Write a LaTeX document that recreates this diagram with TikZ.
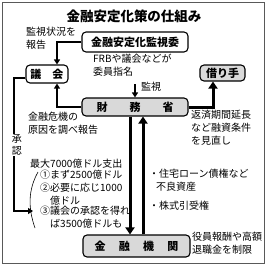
\documentclass[tikz,border=0pt]{standalone}
\usepackage{fontspec}
\setmainfont{Noto Sans CJK JP}
\usetikzlibrary{arrows.meta,calc}

\begin{document}
\begin{tikzpicture}[x=1pt,y=-1pt,>={Triangle[length=5pt,width=6pt]},
  box/.style={draw,rounded corners=4pt,line width=1.1pt,inner sep=0pt,
    font=\bfseries\fontsize{11}{12}\selectfont},
  tone/.style={box,fill=gray!30},
  note/.style={font=\fontsize{10}{13}\selectfont,align=left,inner sep=0pt,anchor=north west},
  link/.style={->,line width=1.2pt},
  heavy/.style={-{Triangle[length=7pt,width=9pt]},line width=3pt}]
  \useasboundingbox (0,0) rectangle (268,266);
  \draw[gray!70!black,line width=0.6pt] (2.5,2.5) rectangle (264.5,263.5);
  \node[font=\bfseries\fontsize{13.5}{14}\selectfont] (title) at (134,16) {金融安定化策の仕組み};
  % boxes
  \node[box,fill=white,minimum width=106pt,minimum height=20pt] (kanshi) at (135,42) {金融安定化監視委};
  \node[box,fill=white,minimum width=42pt,minimum height=18pt] (gikai) at (47,74) {議\hspace{1em}会};
  \node[tone,minimum width=45pt,minimum height=16pt] (karite) at (222.5,73) {借り手};
  \node[tone,minimum width=106pt,minimum height=18pt] (zaimu) at (135,107) {財\hspace{2em}務\hspace{2em}省};
  \node[tone,minimum width=107pt,minimum height=22pt] (kikan) at (136.5,246) {金\hspace{1.2em}融\hspace{1.2em}機\hspace{1.2em}関};
  % notes
  \node[note] (report) at (26,27) {監視状況を\\報告};
  \node[note] (frb) at (93,54) {FRBや議会などが\\委員指名};
  \node[note] (kansa) at (141,82) {監視};
  \node[note] (cause) at (28,112) {金融危機の\\原因を調べ報告};
  \node[note] (loan) at (191,110) {返済期間延長\\など融資条件\\を見直し};
  \node[note] (max) at (30,159) {最大7000億ドル支出};
  \node[note] (item1) at (40,170) {①まず2500億ドル\\②必要に応じ1000\\\rule{1em}{0pt}億ドル};
  \node[note] (item3) at (40,206) {③議会の承認を得れ\\\rule{1em}{0pt}ば3500億ドルも};
  \node[note] (asset) at (149,169) {・住宅ローン債権など\\\rule{0.7em}{0pt}不良資産};
  \node[note] (stock) at (149,201) {・株式引受権};
  \node[note] (pay) at (192,232) {役員報酬や高額\\退職金を制限};
  \coordinate (top) at (135,84);
  \coordinate (corner) at (14,78);
  % connectors
  \draw[link] (kanshi.west) -| ($(gikai.north)+(10,0)$);
  \draw[link] (top) -- (zaimu.north);
  \draw[link] (zaimu.west) -| ($(gikai.south)+(10,0)$);
  \draw[heavy] (zaimu.east) -| ($(karite.south)+(-9.5,0)$);
  \draw[link] (gikai.west |- corner) -- (corner) |- ($(item3.north west)+(-7,5)$);
  \node[fill=white,inner sep=1pt,align=center,font=\fontsize{10}{12}\selectfont] (shonin) at (17,145) {承\\認};
  \draw[heavy] ($(zaimu.south)+(-5,0)$) -- ($(kikan.north)+(-6.5,0)$);
  \draw[heavy] ($(kikan.north)+(6.5,0)$) -- ($(zaimu.south)+(8,0)$);
  \draw[line width=0.6pt] (38,172) .. controls (28,190) and (28,208) .. (35,228);
\end{tikzpicture}
\end{document}
